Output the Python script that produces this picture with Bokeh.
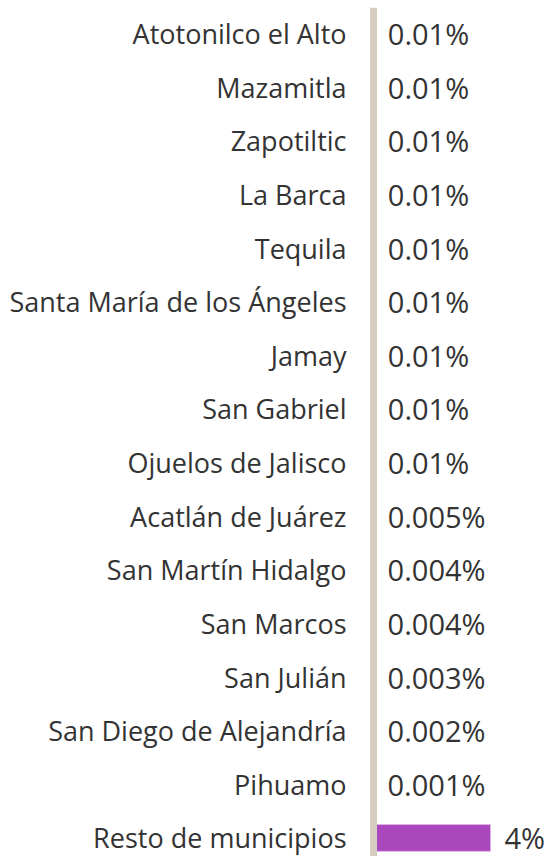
from bokeh.plotting import figure
from bokeh.models import ColumnDataSource, Range1d, Span
from bokeh.core.properties import value
from bokeh.embed import file_html
from bokeh.resources import INLINE

municipios = [
    "Atotonilco el Alto", "Mazamitla", "Zapotiltic", "La Barca", "Tequila",
    "Santa María de los Ángeles", "Jamay", "San Gabriel", "Ojuelos de Jalisco",
    "Acatlán de Juárez", "San Martín Hidalgo", "San Marcos", "San Julián",
    "San Diego de Alejandría", "Pihuamo", "Resto de municipios",
]
porcentajes = [0.01, 0.01, 0.01, 0.01, 0.01, 0.01, 0.01, 0.01, 0.01,
               0.005, 0.004, 0.004, 0.003, 0.002, 0.001, 4]
etiquetas = [f"{v:g}%" for v in porcentajes]

pos = list(range(len(municipios)))
src = ColumnDataSource(dict(y=pos, cat=municipios, val=porcentajes, lab=etiquetas,
                            zero=[0] * len(pos)))

p = figure(width=550, height=856, output_backend="svg", toolbar_location=None,
           x_range=Range1d(-12.75, 6.05), y_range=Range1d(15.346, -0.485),
           min_border=0, min_border_top=7, outline_line_color=None)
p.axis.visible = False
p.grid.visible = False

p.hbar(y="y", left=0, right="val", height=0.5, source=src,
       fill_color="#ab47bc", line_color="#dcb3e6", line_width=1)

p.add_layout(Span(location=0, dimension="height", line_color="#d6cdc0", line_width=7))

p.text(x="zero", y="y", text="cat", source=src, text_align="right",
       text_baseline="middle", x_offset=-27, text_font=value("Open Sans"),
       text_font_size="27px", text_color="#333333")
p.text(x="val", y="y", text="lab", source=src, text_align="left",
       text_baseline="middle", x_offset=14, text_font=value("Open Sans"),
       text_font_size="29px", text_color="#333333")

open("out.html", "w").write(file_html(p, INLINE))
